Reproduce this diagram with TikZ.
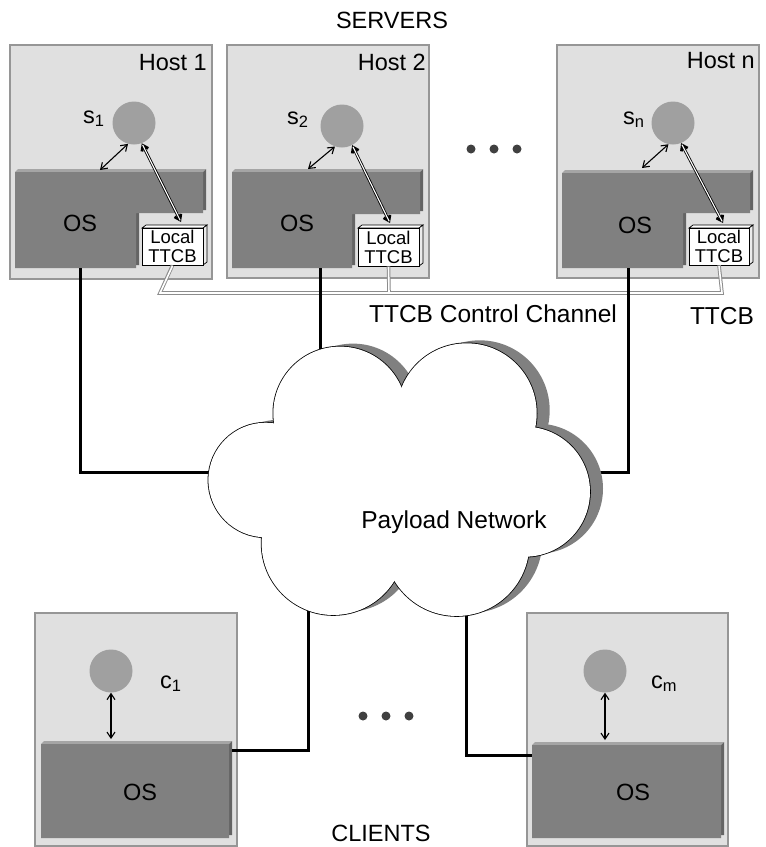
\documentclass[tikz,border=0pt]{standalone}
\usepackage{fontspec}
\setmainfont{Liberation Sans}
\usetikzlibrary{arrows.meta}
\definecolor{hostfill}{RGB}{224,224,224}
\definecolor{hostline}{RGB}{150,150,150}
\definecolor{osfill}{RGB}{128,128,128}
\definecolor{ostop}{RGB}{165,165,165}
\definecolor{osside}{RGB}{100,100,100}
\definecolor{procfill}{RGB}{160,160,160}
\definecolor{dotfill}{RGB}{64,64,64}
\definecolor{shadowc}{RGB}{128,128,128}
\definecolor{chanline}{RGB}{140,140,140}
\definecolor{ttcbside}{RGB}{235,235,235}
\newcommand\osL[6]{% x1, x2, xcut, ytop, ycut, ybot
  \fill[osside] (#1+3,#4-3) -- (#2+3,#4-3) -- (#2+3,#5-3) -- (#3+3,#5-3) -- (#3+3,#6-3) -- (#1+3,#6-3) -- cycle;
  \fill[ostop] (#1,#4) -- (#1+3,#4-3) -- (#2+3,#4-3) -- (#2,#4) -- cycle;
  \fill[osfill] (#1,#4) -- (#2,#4) -- (#2,#5) -- (#3,#5) -- (#3,#6) -- (#1,#6) -- cycle;
}
\newcommand\ttcbbox[5]{% name, x1, y1, x2, y2
  \filldraw[ttcbedge, fill=white] (#2,#3) -- (#2+4,#3-3) -- (#4+4,#3-3) -- (#4,#3) -- cycle;
  \filldraw[ttcbedge, fill=ttcbside] (#4,#3) -- (#4+4,#3-3) -- (#4+4,#5-3) -- (#4,#5) -- cycle;
  \node[ttcbfront, minimum width={#4-#2}, minimum height={#5-#3}] (#1) at ({(#2+#4)/2},{(#3+#5)/2}) {Local\\TTCB};
}
\begin{document}
\begin{tikzpicture}[x=1pt,y=-1pt,
  hostbox/.style={fill=hostfill, draw=hostline, line width=1.2pt},
  proc/.style={circle, fill=procfill, minimum size=43pt, inner sep=0pt},
  lbl/.style={font=\fontsize{23.5}{27}\selectfont, inner sep=0pt},
  biglbl/.style={font=\fontsize{24.5}{28}\selectfont, inner sep=0pt},
  ttcbedge/.style={draw=black, line width=0.7pt},
  ttcbfront/.style={draw=black, line width=0.7pt, fill=white, inner sep=0pt, align=center,
    font=\fontsize{18.5}{19}\selectfont},
  blkarrow/.style={line width=1.1pt, {Straight Barb[length=6pt,width=8pt]}-{Straight Barb[length=6pt,width=8pt]}},
  whtarrowA/.style={line width=2.8pt, black, {Straight Barb[length=5pt,width=7pt]}-{Straight Barb[length=5pt,width=7pt]}},
  whtarrowB/.style={line width=1.1pt, white, shorten <=1.8pt, shorten >=1.8pt},
  chanout/.style={draw=chanline, line width=3.6pt},
  chanin/.style={draw=white, line width=1.6pt},
  netline/.style={line width=3pt, black}
]
\useasboundingbox (0,0) rectangle (766,847);

% host boxes
\draw[hostbox] (10,45) rectangle (212,279);
\draw[hostbox] (227,45) rectangle (429,278);
\draw[hostbox] (557,45) rectangle (759,278);
% client boxes
\draw[hostbox] (35,613) rectangle (237,846);
\draw[hostbox] (527,613) rectangle (728,846);

% OS shapes
\osL{15}{203}{136}{172}{213}{268}
\osL{232}{420}{352}{172}{214}{268}
\osL{562}{750}{683}{173}{213}{268}
\osL{41}{229}{229}{744}{838}{838}
\osL{532}{721}{721}{745}{838}{838}

% local TTCB boxes
\ttcbbox{t1}{142}{228}{203}{265}
\ttcbbox{t2}{358}{228}{419}{266}
\ttcbbox{tn}{689}{228}{749}{265}

% processes
\node[proc] (s1) at (134,123) {};
\node[proc] (s2) at (342,126) {};
\node[proc] (sn) at (673,123) {};
\node[proc] (c1) at (111,671) {};
\node[proc] (cm) at (605,671) {};

% process labels
\node[lbl, anchor=base west] (ls1) at (83,123) {s\textsubscript{1}};
\node[lbl, anchor=base west] (ls2) at (287,124) {s\textsubscript{2}};
\node[lbl, anchor=base west] (lsn) at (623,124) {s\textsubscript{n}};
\node[lbl, anchor=base west] (lc1) at (160,688) {c\textsubscript{1}};
\node[lbl, anchor=base west] (lcm) at (651,688) {c\textsubscript{m}};

% arrow end points
\coordinate (o1) at (100,170);
\coordinate (o2) at (308,169);
\coordinate (on) at (642,168);
\coordinate (tt1) at (181,222);
\coordinate (tt2) at (390,223);
\coordinate (ttn) at (723,223);
\coordinate (oc1) at (111,739);
\coordinate (ocm) at (605,740);

% process <-> OS arrows
\draw[blkarrow] (o1) -- (s1.254);
\draw[blkarrow] (o2) -- (s2.251);
\draw[blkarrow] (on) -- (sn.258);
\draw[blkarrow] (c1.south) -- (oc1);
\draw[blkarrow] (cm.south) -- (ocm);
% process <-> local TTCB arrows
\draw[whtarrowA] (s1.291) -- (tt1);
\draw[whtarrowB] (s1.291) -- (tt1);
\draw[whtarrowA] (s2.298) -- (tt2);
\draw[whtarrowB] (s2.298) -- (tt2);
\draw[whtarrowA] (sn.292) -- (ttn);
\draw[whtarrowB] (sn.292) -- (ttn);

% TTCB control channel
\draw[chanout] (t1.south) -- (160,293) -- (722,293) -- (tn.south);
\draw[chanout] (t2.south) -- (389,293);
\draw[chanin] ([yshift=-0.5pt]t1.south) -- (160,293) -- (722,293) -- ([yshift=-0.5pt]tn.south);
\draw[chanin] ([yshift=-0.5pt]t2.south) -- (389,293);

% payload network links
\coordinate (h1o) at (80,268);
\coordinate (h2o) at (320,268);
\coordinate (hno) at (628,268);
\coordinate (k1) at (240,472);
\coordinate (k2) at (320,380);
\coordinate (kn) at (560,472);
\coordinate (kc1) at (308,560);
\coordinate (kcm) at (466,560);
\coordinate (oc1r) at (232,750);
\coordinate (ocml) at (532,755);
\draw[netline] (h1o) |- (k1);
\draw[netline] (h2o) -- (k2);
\draw[netline] (hno) |- (kn);
\draw[netline] (kc1) |- (oc1r);
\draw[netline] (kcm) |- (ocml);

% cloud
\foreach \cx/\cy/\r in {340/413.3/66.7, 466.7/413.3/70, 525/491.7/65, 456.7/543.3/72.7, 333.3/543.3/71.7, 265.7/480/57.3}
  \fill[shadowc] (\cx+13,\cy-3) circle[radius=\r];
\foreach \cx/\cy/\r in {340/413.3/66.7, 466.7/413.3/70, 525/491.7/65, 456.7/543.3/72.7, 333.3/543.3/71.7, 265.7/480/57.3}
  \draw[line width=1.6pt, black] (\cx,\cy) circle[radius=\r];
\foreach \cx/\cy/\r in {340/413.3/66.7, 466.7/413.3/70, 525/491.7/65, 456.7/543.3/72.7, 333.3/543.3/71.7, 265.7/480/57.3}
  \fill[white] (\cx,\cy) circle[radius=\r];
\fill[white] (340,413) -- (467,413) -- (525,492) -- (457,543) -- (333,543) -- (266,480) -- cycle;

% dots
\foreach \dx in {471,494,517} \fill[dotfill] (\dx,149) circle[radius=4.5];
\foreach \dx in {363,386,409} \fill[dotfill] (\dx,716) circle[radius=4.5];

% texts
\node[lbl] (servers) at (392,20) {SERVERS};
\node[lbl] (clients) at (381,833) {CLIENTS};
\node[lbl, anchor=base east] (host1) at (207,70) {Host 1};
\node[lbl, anchor=base east] (host2) at (426,70) {Host 2};
\node[lbl, anchor=base east] (hostn) at (755,68) {Host n};
\node[lbl] (os1) at (80,223) {OS};
\node[lbl] (os2) at (297,223) {OS};
\node[lbl] (osn) at (635,225) {OS};
\node[lbl] (osc1) at (140,792) {OS};
\node[lbl] (oscm) at (633,792) {OS};
\node[biglbl] (chan) at (493,314) {TTCB Control Channel};
\node[biglbl] (ttcb) at (722,316) {TTCB};
\node[biglbl] (net) at (454,522) {Payload Network};
\end{tikzpicture}
\end{document}
